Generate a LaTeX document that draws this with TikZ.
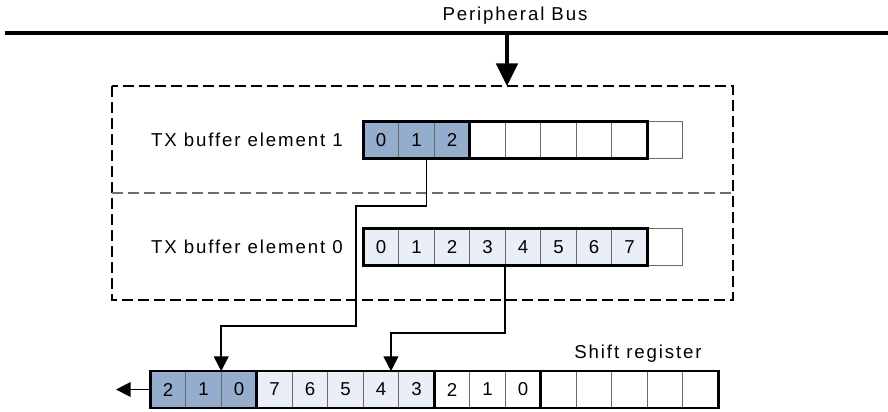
\documentclass[tikz,border=0pt]{standalone}
\usepackage{fontspec}
\setmainfont{Liberation Sans}[LetterSpace=10]
\usetikzlibrary{arrows.meta}
\definecolor{darkcell}{RGB}{149,173,204}
\definecolor{lightcell}{RGB}{233,238,247}
\definecolor{cellline}{RGB}{105,105,105}
\definecolor{middash}{RGB}{110,110,110}
\newcommand{\fs}{\fontsize{14pt}{17pt}\selectfont}
\begin{document}
\begin{tikzpicture}[x=0.75pt,y=-0.75pt,
  cell/.style={draw=cellline, line width=0.7pt, minimum width=26.625pt, minimum height=27.6pt, inner sep=0pt, outer sep=0pt, font=\fs},
  grp/.style={draw=black, line width=2pt},
  lbl/.style={font=\fs, inner sep=0pt},
  bus/.style={line width=3.4pt},
  busarrow/.style={line width=3pt, -{Triangle[width=16pt,length=17pt]}},
  conn/.style={line width=1.4pt, -{Triangle[width=11pt,length=11pt]}},
  dbox/.style={line width=1.4pt, dash pattern=on 8pt off 4pt},
  mdash/.style={line width=1.4pt, draw=middash, dash pattern=on 8pt off 4pt}]
\useasboundingbox (0,0) rectangle (888,411);

% bus
\coordinate (busL) at (5,33);
\coordinate (busR) at (888,33);
\coordinate (busdrop) at (507,33);
\draw[bus] (busL) -- (busR);
\node[lbl] (buslabel) at (515,16) {Peripheral Bus};

% dashed TX buffer area
\coordinate (dtl) at (112,86);
\coordinate (dbr) at (733,300);
\coordinate (dml) at (112,193);
\coordinate (dmr) at (733,193);
\draw[dbox] (dtl) rectangle (dbr);
\draw[mdash] (dml) -- (dmr);
\draw[busarrow] (busdrop) -- (busdrop |- dtl);

% TX buffer element 1
\foreach \i/\t/\f in {0/0/darkcell,1/1/darkcell,2/2/darkcell,3//white,4//white,5//white,6//white,7//white,8//white}
  \node[cell, fill=\f] (e1c\i) at ({363.3+35.5*(\i+0.5)},140) {\t};
\draw[grp] (e1c0.north west) rectangle (e1c2.south east);
\draw[grp] (e1c0.north west) rectangle (e1c7.south east);
\node[lbl, anchor=east] (e1lbl) at (343,140) {TX buffer element 1};

% TX buffer element 0
\foreach \i/\t/\f in {0/0/lightcell,1/1/lightcell,2/2/lightcell,3/3/lightcell,4/4/lightcell,5/5/lightcell,6/6/lightcell,7/7/lightcell,8//white}
  \node[cell, fill=\f] (e0c\i) at ({363.3+35.5*(\i+0.5)},247) {\t};
\draw[grp] (e0c0.north west) rectangle (e0c7.south east);
\node[lbl, anchor=east] (e0lbl) at (343,247) {TX buffer element 0};

% shift register
\foreach \i/\t/\f in {0/2/darkcell,1/1/darkcell,2/0/darkcell,3/7/lightcell,4/6/lightcell,5/5/lightcell,6/4/lightcell,7/3/lightcell,8/2/white,9/1/white,10/0/white,11//white,12//white,13//white,14//white,15//white}
  \node[cell, fill=\f] (sr\i) at ({150.2+35.5*(\i+0.5)},389.5) {\t};
\draw[grp] (sr0.north west) rectangle (sr2.south east);
\draw[grp] (sr3.north west) rectangle (sr7.south east);
\draw[grp] (sr8.north west) rectangle (sr10.south east);
\draw[grp] (sr0.north west) rectangle (sr15.south east);
\node[lbl] (srlbl) at (638,354) {Shift register};

% connectors
\draw[conn] ([xshift=7.5pt]e1c1.south) |- (356,205.7) -- (356,326) -| (sr2.north west);
\draw[conn] (e0c3.south east) -- (e0c3.south east |- 0,333) -| ([xshift=7.5pt]sr6.north);
\coordinate (out) at (116,389.5);
\draw[conn] (sr0.west) -- (out);
\end{tikzpicture}
\end{document}
